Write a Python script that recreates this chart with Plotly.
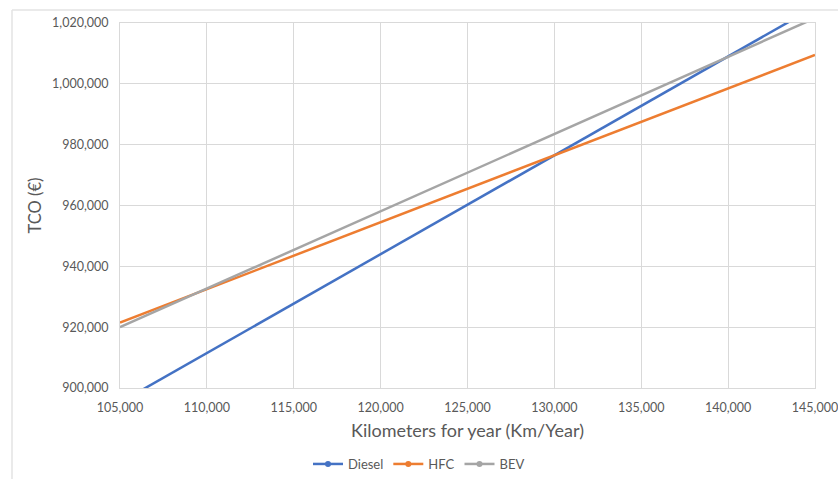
import plotly.graph_objects as go

km_per_year = [105000, 110000, 115000, 120000, 125000, 130000, 135000, 140000, 145000]
diesel = [895250, 911500, 927750, 944000, 960250, 976500, 992750, 1009000, 1025250]
hfc = [921500, 932500, 943500, 954500, 965500, 976500, 987500, 998500, 1009500]
bev = [920000, 932700, 945400, 958100, 970800, 983500, 996200, 1008900, 1021600]

series = [("Diesel", diesel, "#4472C4"), ("HFC", hfc, "#ED7D31"), ("BEV", bev, "#A5A5A5")]

fig = go.Figure()
for name, vals, col in series:
    fig.add_trace(go.Scatter(x=km_per_year, y=vals, mode="lines", name=name,
                             line=dict(color=col, width=2.5), showlegend=False))
for name, vals, col in series:
    fig.add_trace(go.Scatter(x=[None], y=[None], mode="lines+markers", name=name,
                             line=dict(color=col, width=2.5), marker=dict(color=col, size=6)))

W, H = 838, 479
l, r, t, b = 120, 23, 23, 91
pw, ph = W - l - r, H - t - b
def px(x): return (x - l) / pw
def py(y): return (H - b - y) / ph

fig.add_shape(type="line", xref="paper", yref="paper", x0=px(12), x1=px(840), y0=py(10), y1=py(10),
              line=dict(color="#e3e3e3", width=1.5))
fig.add_shape(type="line", xref="paper", yref="paper", x0=px(12), x1=px(12), y0=py(10), y1=py(481),
              line=dict(color="#e3e3e3", width=1.5))

font = "Lato, Open Sans, sans-serif"
fig.update_layout(
    width=W, height=H, margin=dict(l=l, r=r, t=t, b=b, autoexpand=False),
    paper_bgcolor="white", plot_bgcolor="white",
    font=dict(family=font, color="#595959", size=12),
    xaxis=dict(range=[105000, 145000], dtick=5000, tickformat=",d", automargin=False,
               showgrid=True, gridcolor="#d9d9d9", gridwidth=1, ticklabeloverflow="allow",
               showline=True, linecolor="#d9d9d9", mirror=True, zeroline=False,
               ticks="", ticklabelstandoff=8, tickfont=dict(size=12.5),
               title=dict(text="Kilometers for year (Km/Year)", font=dict(size=18, color="#595959"), standoff=10)),
    yaxis=dict(range=[900000, 1020000], dtick=20000, tickformat=",d", automargin=False,
               showgrid=True, gridcolor="#d9d9d9", gridwidth=1,
               showline=True, linecolor="#d9d9d9", mirror=True, zeroline=False,
               ticks="", ticklabelstandoff=8, tickfont=dict(size=12.5),
               title=dict(text="TCO (€)", font=dict(size=16.5, color="#595959"), standoff=6)),
    legend=dict(orientation="h", x=0.5, xanchor="center", y=1 - 464 / H, yanchor="middle",
                yref="container", xref="container",
                font=dict(size=13, color="#595959"), itemwidth=30, tracegroupgap=0),
)

fig.write_html("out.html")
